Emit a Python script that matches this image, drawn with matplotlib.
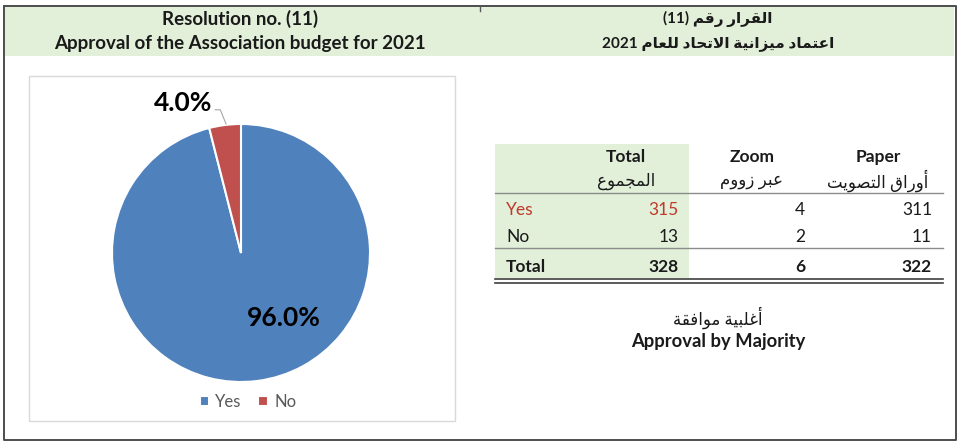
import re

import matplotlib.pyplot as plt
from matplotlib.patches import Rectangle

plt.rcParams["font.family"] = ["Lato", "DejaVu Sans"]

categories = ["Yes", "No"]
paper = [311, 11]
zoom = [4, 2]
total = [315, 13]
col_titles = ["Total", "Zoom", "Paper"]
col_titles_ar = ["المجموع", "عبر زووم", "أوراق التصويت"]
pie_colors = ["#4f81bd", "#c0504d"]

# isolated, final, initial, medial (presentation forms B)
FORMS = {
    "ا": ("\ufe8d", "\ufe8e", None, None),
    "أ": ("\ufe83", "\ufe84", None, None),
    "ب": ("\ufe8f", "\ufe90", "\ufe91", "\ufe92"),
    "ة": ("\ufe93", "\ufe94", None, None),
    "ت": ("\ufe95", "\ufe96", "\ufe97", "\ufe98"),
    "ج": ("\ufe9d", "\ufe9e", "\ufe9f", "\ufea0"),
    "ح": ("\ufea1", "\ufea2", "\ufea3", "\ufea4"),
    "د": ("\ufea9", "\ufeaa", None, None),
    "ر": ("\ufead", "\ufeae", None, None),
    "ز": ("\ufeaf", "\ufeb0", None, None),
    "ص": ("\ufeb9", "\ufeba", "\ufebb", "\ufebc"),
    "ع": ("\ufec9", "\ufeca", "\ufecb", "\ufecc"),
    "غ": ("\ufecd", "\ufece", "\ufecf", "\ufed0"),
    "ف": ("\ufed1", "\ufed2", "\ufed3", "\ufed4"),
    "ق": ("\ufed5", "\ufed6", "\ufed7", "\ufed8"),
    "ل": ("\ufedd", "\ufede", "\ufedf", "\ufee0"),
    "م": ("\ufee1", "\ufee2", "\ufee3", "\ufee4"),
    "ن": ("\ufee5", "\ufee6", "\ufee7", "\ufee8"),
    "و": ("\ufeed", "\ufeee", None, None),
    "ي": ("\ufef1", "\ufef2", "\ufef3", "\ufef4"),
}
LAM_ALEF = {"ا": ("\ufefb", "\ufefc"), "أ": ("\ufef7", "\ufef8")}


def _dual(t):
    return t in FORMS and FORMS[t][2] is not None


def _arab(t):
    return isinstance(t, tuple) or t in FORMS


def ar(s):
    # minimal arabic shaping + right-to-left ordering, matplotlib does neither
    tokens = []
    i = 0
    while i < len(s):
        if s[i] == "ل" and i + 1 < len(s) and s[i + 1] in LAM_ALEF:
            tokens.append(("LA", s[i + 1]))
            i += 2
        else:
            tokens.append(s[i])
            i += 1
    res = []
    for k, t in enumerate(tokens):
        prev = tokens[k - 1] if k else None
        nxt = tokens[k + 1] if k + 1 < len(tokens) else None
        jp = prev is not None and _dual(prev) and _arab(t)
        if isinstance(t, tuple):
            res.append(LAM_ALEF[t[1]][1 if jp else 0])
            continue
        if t not in FORMS:
            res.append(t)
            continue
        jn = _dual(t) and nxt is not None and _arab(nxt)
        iso, fin, ini, med = FORMS[t]
        res.append(med if jp and jn else fin if jp else ini if jn else iso)
    v = "".join(res)[::-1]
    v = re.sub(r"\d+", lambda m: m.group(0)[::-1], v)
    return v.translate(str.maketrans("()", ")("))


W, H = 960, 446
fig = plt.figure(figsize=(W / 100, H / 100), dpi=100)
bg = fig.add_axes([0, 0, 1, 1])
bg.set_xlim(0, W)
bg.set_ylim(H, 0)
bg.axis("off")

green = "#e2efd9"
ink = "#1a1a1a"
# header band and outer frame
bg.add_patch(Rectangle((5, 7), 949, 49, fc=green, ec="none"))
bg.plot([4, 956, 956, 4, 4], [6, 6, 440, 440, 6], color="#4d4d4d", lw=1.4)
bg.plot([480, 480], [6, 11], color="#595959", lw=1)

bg.text(240, 19, "Resolution no. (11)", ha="center", va="center",
        fontsize=13.5, fontweight="bold", color=ink)
bg.text(240, 44, "Approval of the Association budget for 2021", ha="center",
        va="center", fontsize=13.5, fontweight="bold", color=ink)
bg.text(718, 19, ar("القرار رقم (11)"), ha="center", va="center",
        fontsize=11, fontweight="bold", color=ink)
bg.text(718, 44, ar("اعتماد ميزانية الاتحاد للعام 2021"), ha="center",
        va="center", fontsize=11, fontweight="bold", color=ink)

# chart area
bg.add_patch(Rectangle((29, 76), 426, 345, fc="white", ec="#d9d9d9", lw=1))

cx, cy, r = 241, 253, 129
ax = fig.add_axes([(cx - r) / W, 1 - (cy + r) / H, 2 * r / W, 2 * r / H])
wedges, _, autotexts = ax.pie(
    total, colors=pie_colors, startangle=90, counterclock=False,
    autopct="%.1f%%", wedgeprops=dict(edgecolor="white", linewidth=1.5),
    textprops=dict(fontsize=19, fontweight="bold", color="black"),
)
ax.set_xlim(-1, 1)
ax.set_ylim(-1, 1)
ax.set_aspect("equal")
autotexts[0].set_position((0.33, -0.5))
autotexts[1].set_position((-0.45, 1.16))
for t in autotexts:
    t.set_clip_on(False)
ax.plot([-0.2, -0.16, -0.116], [1.11, 1.11, 1.0], color="#a6a6a6", lw=0.8,
        clip_on=False)
fig.legend(wedges, categories, loc="center", ncol=2,
           bbox_to_anchor=(248 / W, 1 - 402 / H), frameon=False, fontsize=12,
           labelcolor="#595959", handlelength=0.55, handleheight=0.55,
           handletextpad=0.4, columnspacing=1.0)

# table
bg.add_patch(Rectangle((495, 144), 194, 134, fc=green, ec="none"))
bg.plot([495, 943], [193, 193], color="#8c8c8c", lw=1)
bg.plot([495, 943], [248, 248], color="#8c8c8c", lw=1)
bg.plot([495, 943], [278.5, 278.5], color="#404040", lw=1.2)
bg.plot([495, 943], [282.5, 282.5], color="#404040", lw=1.2)

head_x = [626, 752, 878]
val_x = [679, 805, 932]
for hx, t, ta in zip(head_x, col_titles, col_titles_ar):
    bg.text(hx, 157, t, ha="center", va="center", fontsize=12.5,
            fontweight="bold", color=ink)
    bg.text(hx, 181, ar(ta), ha="center", va="center", fontsize=12,
            color=ink)

row_y = [210, 237]
for i, (cat, y) in enumerate(zip(categories, row_y)):
    c = "#c0392b" if i == 0 else ink
    bg.text(506, y, cat, ha="left", va="center", fontsize=12.5, color=c)
    for j, vals in enumerate([total, zoom, paper]):
        bg.text(val_x[j], y, str(vals[i]), ha="right", va="center",
                fontsize=12.5, color=c if j == 0 else ink)

bg.text(506, 267, "Total", ha="left", va="center", fontsize=12.5,
        fontweight="bold", color=ink)
for j, vals in enumerate([total, zoom, paper]):
    bg.text(val_x[j], 267, str(sum(vals)), ha="right", va="center",
            fontsize=12.5, fontweight="bold", color=ink)

bg.text(718, 318, ar("أغلبية موافقة"), ha="center", va="center",
        fontsize=12, color=ink)
bg.text(718, 342, "Approval by Majority", ha="center", va="center",
        fontsize=13.2, fontweight="bold", color=ink)

fig.savefig("out.png", dpi=100)
